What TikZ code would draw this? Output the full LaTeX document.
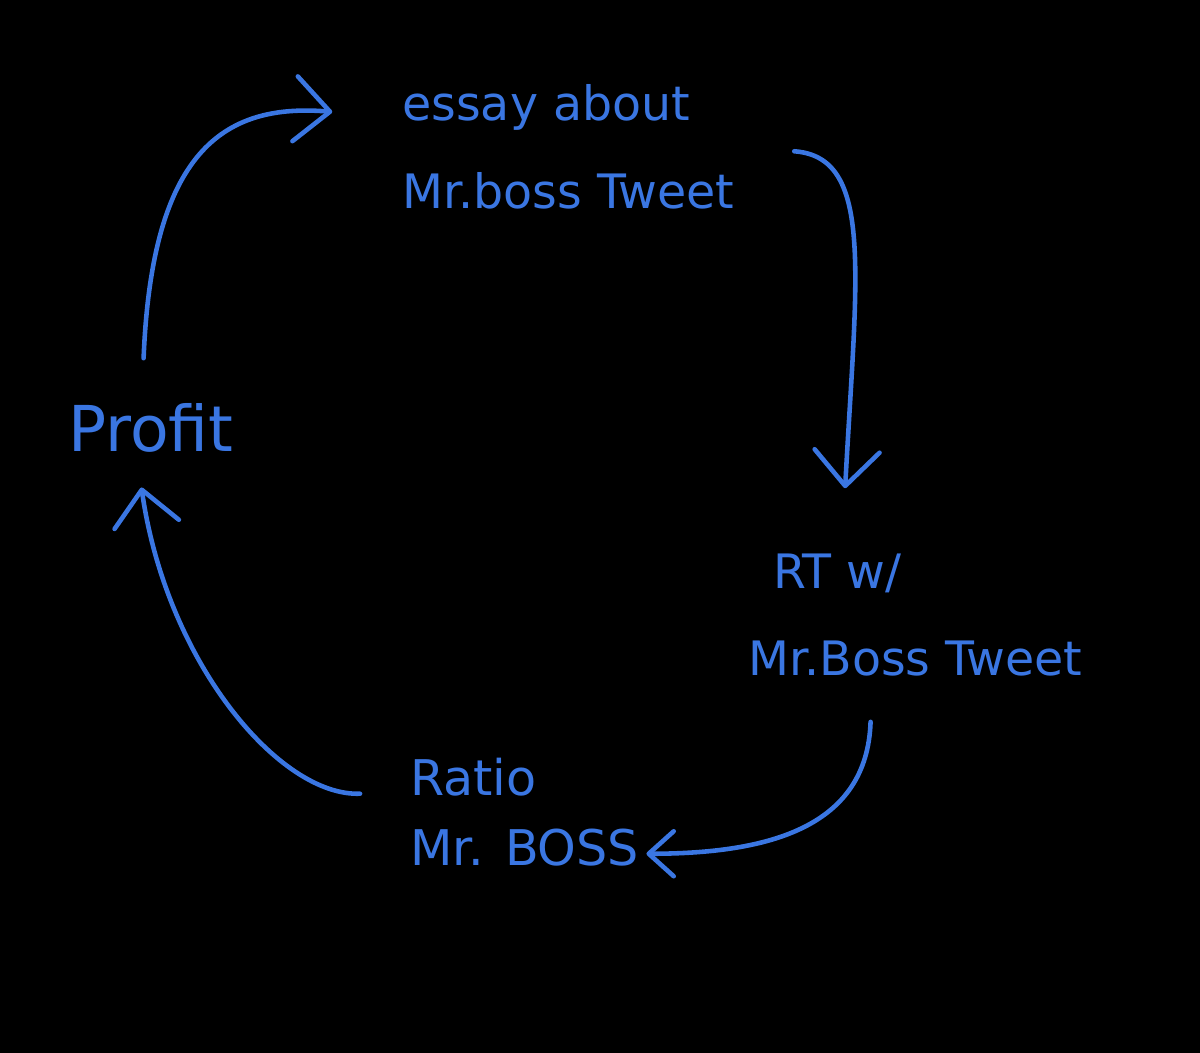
\documentclass[tikz,border=0pt]{standalone}
\usepackage{fontspec}
\setmainfont{DejaVu Sans}
\usepackage{xcolor}
\usetikzlibrary{arrows.meta}
\definecolor{pen}{RGB}{58,118,226}

\begin{document}
\begin{tikzpicture}[x=0.02cm,y=-0.02cm,
  note/.style={text=pen,font=\fontsize{27}{50}\selectfont,align=left,inner sep=0pt,anchor=west},
  flow/.style={draw=pen,line width=2.6pt,line cap=round,-{Straight Barb[length=7mm,width=13mm,round]}}]
  \fill[black] (0,0) rectangle (1200,1053);
  \node[note] (essay) at (402,147) {essay about\\Mr.boss Tweet};
  \node[note] (rt) at (748,615) {\hspace*{0.5cm}RT w/\\Mr.Boss Tweet};
  \node[note,font=\fontsize{28}{40}\selectfont] (ratio) at (410,812) {Ratio\\Mr. BOSS};
  \node[note,font=\fontsize{36}{40}\selectfont] (profit) at (68,428) {Profit};
  \draw[flow,shorten <=0.9cm,shorten >=1.4cm] (profit.110) .. controls +(10,-250) and +(-180,-15) .. (essay.170);
  \draw[flow,shorten <=1.2cm,shorten >=1.3cm] (essay.east) .. controls +(140,10) and +(15,-280) .. (rt.140);
  \draw[flow,shorten <=0.9cm,shorten >=4pt,-{Straight Barb[length=5mm,width=9mm,round]}] (rt.-125) .. controls +(-5,150) and +(130,0) .. (ratio.-20);
  \draw[flow,shorten <=1cm,shorten >=0.7cm] (ratio.170) .. controls +(-130,5) and +(30,210) .. (profit.-120);
\end{tikzpicture}
\end{document}
